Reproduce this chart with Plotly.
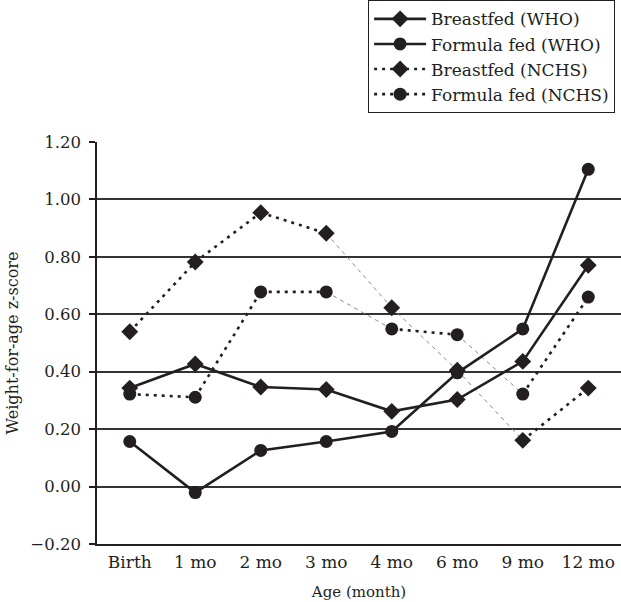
import plotly.graph_objects as go

categories = ["Birth", "1 mo", "2 mo", "3 mo", "4 mo", "6 mo", "9 mo", "12 mo"]
breastfed_who = [0.343, 0.427, 0.347, 0.338, 0.262, 0.303, 0.436, 0.771]
formula_who = [0.157, -0.021, 0.126, 0.157, 0.192, 0.396, 0.549, 1.105]
breastfed_nchs = [0.539, 0.782, 0.954, 0.882, 0.623, 0.405, 0.161, 0.343]
formula_nchs = [0.322, 0.311, 0.678, 0.678, 0.549, 0.529, 0.322, 0.660]
# segments of NCHS lines that print as faint thin dashes in the original (start index of segment)
breastfed_nchs_faint = [3, 4, 5]
formula_nchs_faint = [3, 5]

ytick_vals = [-0.2, 0.0, 0.2, 0.4, 0.6, 0.8, 1.0, 1.2]
ytick_text = ["\u22120.20", "0.00", "0.20", "0.40", "0.60", "0.80", "1.00", "1.20"]

INK = "#231f20"
FONT = "DejaVu Serif"
DIAMOND = 13
CIRCLE = 13


def split(vals, faint):
    n = len(vals)
    strong_seg = [i for i in range(n - 1) if i not in faint]
    xs_t, ys_t, xs_f, ys_f = [], [], [], []
    for i in strong_seg:
        xs_t += [categories[i], categories[i + 1], None]
        ys_t += [vals[i], vals[i + 1], None]
    for i in faint:
        xs_f += [categories[i], categories[i + 1], None]
        ys_f += [vals[i], vals[i + 1], None]
    return xs_t, ys_t, xs_f, ys_f


fig = go.Figure()

for name, vals, faint, sym in [
    ("Breastfed (NCHS)", breastfed_nchs, breastfed_nchs_faint, "diamond"),
    ("Formula fed (NCHS)", formula_nchs, formula_nchs_faint, "circle"),
]:
    xs_t, ys_t, xs_f, ys_f = split(vals, faint)
    fig.add_trace(go.Scatter(x=xs_f, y=ys_f, mode="lines", showlegend=False,
                             line=dict(color="#8a8a8a", width=1, dash="4px,4px"),
                             hoverinfo="skip"))
    fig.add_trace(go.Scatter(x=xs_t, y=ys_t, mode="lines", showlegend=False,
                             line=dict(color=INK, width=2.6, dash="3px,5px"),
                             hoverinfo="skip"))
    fig.add_trace(go.Scatter(x=categories, y=vals, mode="markers", showlegend=False,
                             marker=dict(symbol=sym, size=DIAMOND if sym == "diamond" else CIRCLE, color=INK)))

for name, vals, sym in [
    ("Breastfed (WHO)", breastfed_who, "diamond"),
    ("Formula fed (WHO)", formula_who, "circle"),
]:
    fig.add_trace(go.Scatter(x=categories, y=vals, mode="lines+markers", name=name,
                             line=dict(color=INK, width=2.6),
                             marker=dict(symbol=sym, size=DIAMOND if sym == "diamond" else CIRCLE, color=INK)))

# legend entries for NCHS series
for name, vals, sym in [
    ("Breastfed (NCHS)", breastfed_nchs, "diamond"),
    ("Formula fed (NCHS)", formula_nchs, "circle"),
]:
    fig.add_trace(go.Scatter(x=[categories[0]], y=[None], mode="lines+markers", name=name,
                             line=dict(color=INK, width=2.6, dash="3px,5px"),
                             marker=dict(symbol=sym, size=DIAMOND if sym == "diamond" else CIRCLE, color=INK)))

fig.update_layout(
    width=621, height=602,
    margin=dict(l=97, r=0, t=142, b=58),
    paper_bgcolor="white", plot_bgcolor="white",
    font=dict(family=FONT, color=INK, size=16),
    legend=dict(x=0.517, y=1.353, xanchor="left", yanchor="top",
                bordercolor=INK, borderwidth=1.2, bgcolor="white",
                font=dict(size=17, family=FONT, color=INK),
                itemwidth=52, tracegroupgap=0),
    showlegend=True,
)
fig.update_xaxes(type="category", categoryorder="array", categoryarray=categories,
                 range=[-0.5, 7.5], showgrid=False, showline=True, linecolor=INK, linewidth=1.5,
                 ticks="", tickfont=dict(size=17, family=FONT, color=INK),
                 ticklabelstandoff=2,
                 title=dict(text="Age (month)", font=dict(size=15, family=FONT, color=INK), standoff=15),
                 zeroline=False, fixedrange=True)
fig.update_yaxes(range=[-0.2, 1.2], tickvals=ytick_vals, ticktext=ytick_text,
                 showgrid=True, gridcolor="#333333", gridwidth=1.5,
                 showline=True, linecolor=INK, linewidth=1.5,
                 ticks="outside", ticklen=6, tickcolor=INK, tickwidth=1.5,
                 tickfont=dict(size=16.5, family=FONT, color=INK),
                 ticklabelstandoff=5,
                 title=dict(text="Weight-for-age z-score", font=dict(size=16, family=FONT, color=INK), standoff=8),
                 zeroline=False)

fig.write_html("out.html")
